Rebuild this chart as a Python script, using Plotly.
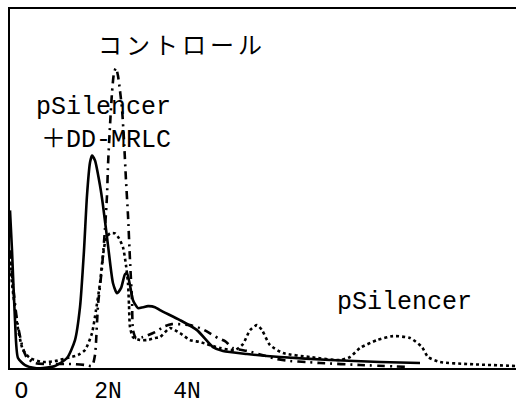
import plotly.graph_objects as go

# Channel (DNA content) vs relative cell count
solid_x = [0, 2, 5, 8, 15, 25, 33, 45, 57, 65, 70, 74, 77, 80, 82, 85, 90, 93, 98, 103, 107, 111, 115, 117, 120, 123,
           128, 133, 138, 145, 150, 170, 187, 203, 213, 237, 270, 320, 370, 410]
solid_y = [158, 118, 48, 10, 3, 0, 0, 2, 10, 28, 61, 118, 173, 206, 213, 208, 183, 163, 123, 85, 75, 80, 94, 95, 83, 68,
           60, 61, 62, 61, 58, 48, 38, 21, 17, 14, 11, 8, 6, 5]

control_x = [0, 3, 7, 12, 17, 25, 40, 63, 75, 82, 85, 88, 92, 95, 97, 98, 100, 102, 104, 106, 108, 110, 112, 114, 116,
             118, 120, 122, 123, 126, 133, 145, 155, 162, 180, 190, 198, 208, 215, 223, 238, 252, 267, 280, 296, 310,
             350, 400]
control_y = [118, 83, 48, 23, 10, 5, 4, 4, 3, 2, 13, 63, 101, 140, 173, 203, 243, 276, 296, 301, 293, 278, 260, 228, 188,
             153, 108, 68, 38, 30, 31, 36, 42, 44, 43, 40, 36, 30, 27, 20, 17, 13, 9, 7, 6, 5, 3, 1]

psil_x = [0, 2, 7, 13, 20, 33, 45, 57, 68, 75, 82, 86, 90, 93, 96, 100, 105, 109, 113, 116, 118, 119, 120, 123, 130, 137,
          145, 150, 160, 170, 180, 190, 210, 225, 233, 240, 247, 252, 260, 273, 300, 330, 340, 350, 367, 383, 400, 412,
          418, 430, 457, 506]
psil_y = [113, 85, 45, 18, 10, 6, 7, 10, 13, 18, 35, 58, 85, 113, 130, 135, 135, 130, 121, 103, 85, 63, 41, 31, 28, 28,
          30, 31, 40, 35, 28, 26, 20, 18, 24, 38, 43, 38, 23, 15, 11, 8, 11, 20, 28, 32, 30, 21, 11, 6, 4, 2]

tick_pos = [11.5, 98, 177]
tick_text = ["O", "2N", "4N"]

fig = go.Figure()
fig.add_trace(go.Scatter(x=psil_x, y=psil_y, mode="lines", line=dict(color="black", width=2.6, dash="dot", shape="spline", smoothing=0.6),
                         name="pSilencer"))
fig.add_trace(go.Scatter(x=control_x, y=control_y, mode="lines",
                         line=dict(color="black", width=2.6, dash="8px,5px,2px,5px", shape="spline", smoothing=0.6),
                         name="コントロール"))
fig.add_trace(go.Scatter(x=solid_x, y=solid_y, mode="lines", line=dict(color="black", width=2.6, shape="spline", smoothing=0.6),
                         name="pSilencer＋DD-MRLC"))

mono = "Liberation Mono, Noto Sans CJK JP, monospace"
fig.add_annotation(x=170, y=325, text="コ\u2006ン\u2006ト\u2006ロ\u2006ー\u2006ル", showarrow=False,
                   font=dict(family="Noto Sans CJK JP", size=24, color="black"))
fig.add_annotation(x=163, y=245, text="pSilencer<br>＋DD-MRLC", showarrow=False, xanchor="right", align="right",
                   font=dict(family=mono, size=25, color="black"))
fig.add_annotation(x=394, y=66, text="pSilencer", showarrow=False,
                   font=dict(family=mono, size=25, color="black"))

fig.update_layout(
    width=516, height=406, margin=dict(l=10, r=0, t=9, b=38, autoexpand=False),
    paper_bgcolor="white", plot_bgcolor="white", showlegend=False,
    xaxis=dict(range=[0, 506], tickvals=tick_pos, ticktext=tick_text, showgrid=False, zeroline=False,
               showline=True, linecolor="black", linewidth=2, mirror=True, ticks="",
               tickfont=dict(family=mono, size=23, color="black")),
    yaxis=dict(range=[0, 360], showticklabels=False, showgrid=False, zeroline=False,
               showline=True, linecolor="black", linewidth=2, ticks=""),
)
fig.write_html("out.html", config={"displayModeBar": False},
               post_script="document.body.style.margin='0';document.body.style.overflow='hidden';")
